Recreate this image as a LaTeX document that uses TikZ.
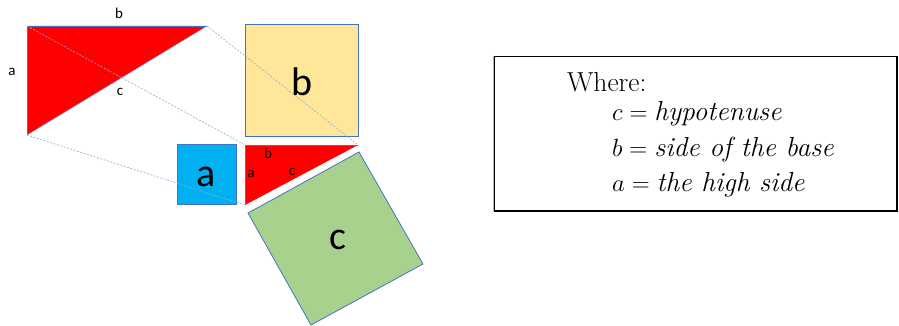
\documentclass[tikz,border=0pt]{standalone}
\usepackage{fontspec}
\newfontfamily\calib{Carlito}
\definecolor{edgeblue}{HTML}{4472C4}
\definecolor{dashblue}{HTML}{8FAADC}
\definecolor{sqa}{HTML}{00B0F0}
\definecolor{sqb}{HTML}{FFE699}
\definecolor{sqc}{HTML}{A9D18E}
\definecolor{tri}{HTML}{FF0000}
\tikzset{
  shape edge/.style={draw=edgeblue, line width=0.8pt},
  guide/.style={draw=dashblue, line width=0.6pt, dash pattern=on 2pt off 1.5pt},
  small label/.style={font=\calib\fontsize{15}{17}\selectfont, inner sep=0pt},
  big label/.style={font=\calib\fontsize{40}{44}\selectfont, inner sep=0pt},
  box text/.style={font=\fontsize{27.5}{32}\selectfont, inner sep=0pt, anchor=base west},
}
\begin{document}
\begin{tikzpicture}[x=1pt,y=-1pt]
\useasboundingbox (0,0) rectangle (899,326);
% big triangle
\coordinate (A) at (27,26);
\coordinate (B) at (207,26);
\coordinate (C) at (27,135);
% small triangle
\coordinate (sA) at (245,145);
\coordinate (sB) at (358,145);
\coordinate (sC) at (245,205);
% square c
\coordinate (c1) at (248,213);
\coordinate (c2) at (359,152);
\coordinate (c3) at (423,264);
\coordinate (c4) at (311,325);

\fill[tri] (A) -- (B) -- (C) -- cycle;
\draw[shape edge] (C) -- (A) -- (B);
\draw[draw=edgeblue!70, line width=0.5pt] (B) -- (C);

\fill[sqb, shape edge] (245,24) rectangle (358,136);
\fill[sqa, shape edge] (177,144) rectangle (236,204);

\fill[tri] (sA) -- (sB) -- (sC) -- cycle;
\draw[shape edge] (sC) -- (sA) -- (sB);

\fill[sqc, shape edge] (c1) -- (c2) -- (c3) -- (c4) -- cycle;

% guide lines
\draw[guide] (A) -- (sA);
\draw[guide] (B) -- (sB);
\draw[guide] (C) -- (sC);

% labels
\node[small label] (lb) at (119,13) {b};
\node[small label] (la) at (12,72) {a};
\node[small label] (lc) at (120,92) {c};
\node[small label] (slb) at (268,153) {b};
\node[small label] (sla) at (251,174) {a};
\node[small label] (slc) at (292,172) {c};
\node[big label] (La) at (206,177) {a};
\node[big label] (Lb) at (302,82) {b};
\node[big label] (Lc) at (338,240) {c};

% text box
\draw[black!30, line width=0.8pt] (493,56) -- (493,212);
\draw[black, line width=1.2pt] (494.5,56.5) rectangle (897,211);
\node[box text] (where) at (567,92) {Where:};
\node[box text] (l1) at (612,121) {$c = \textit{hypotenuse}$};
\node[box text] (l2) at (612,156) {$b = \textit{side of the base}$};
\node[box text] (l3) at (612,191) {$a = \textit{the high side}$};
\end{tikzpicture}
\end{document}
